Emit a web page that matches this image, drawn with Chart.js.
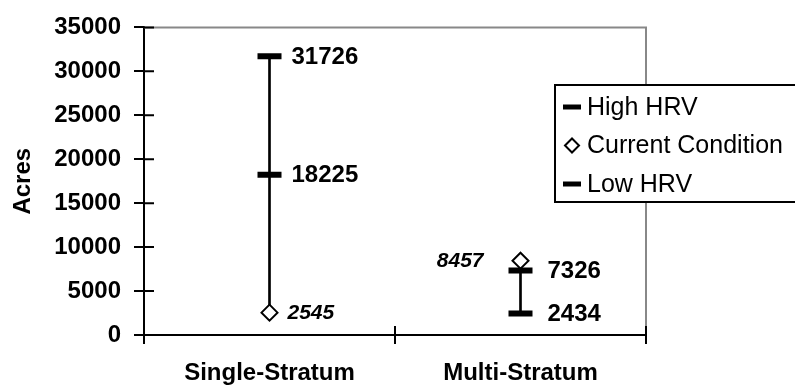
<!DOCTYPE html>
<html>
<head>
<meta charset="utf-8">
<script src="https://cdn.jsdelivr.net/npm/chart.js@4"></script>
<style>
  html, body { margin: 0; padding: 0; background: #fff; }
  #wrap { width: 795px; height: 390px; }
</style>
</head>
<body>
<div id="wrap"><canvas id="chart"></canvas></div>
<script>
// data
const categories = ['Single-Stratum', 'Multi-Stratum'];
const seriesNames = ['High HRV', 'Current Condition', 'Low HRV'];
const highHRV = [31726, 7326];
const currentCondition = [2545, 8457];
const lowHRV = [18225, 2434];
// the vertical range line at each category
const rangeBottom = [2545, 2434];
const rangeTop = [31726, 7326];
const yTicks = [0, 5000, 10000, 15000, 20000, 25000, 30000, 35000];

const FONT = 'Arial, "Liberation Sans", sans-serif';

// grey plot frame + inner halves of the tick marks
const framePlugin = {
    id: 'frame',
    beforeDatasetsDraw(chart) {
        const { ctx, chartArea: a, scales } = chart;
        ctx.save();
        ctx.strokeStyle = '#888';
        ctx.lineWidth = 2;
        ctx.beginPath();
        ctx.moveTo(a.left, a.top);
        ctx.lineTo(a.right, a.top);
        ctx.lineTo(a.right, a.bottom);
        ctx.stroke();

        ctx.strokeStyle = '#000';
        ctx.beginPath();
        scales.y.ticks.forEach(t => {
            const y = scales.y.getPixelForValue(t.value);
            ctx.moveTo(a.left, y);
            ctx.lineTo(a.left + 10, y);
        });
        for (let k = 0; k <= categories.length; k++) {
            const x = scales.x.getPixelForValue(k - 0.5);
            ctx.moveTo(x, a.bottom);
            ctx.lineTo(x, a.bottom - 9);
        }
        ctx.stroke();
        ctx.restore();
    }
};

// value labels beside the markers
const valueLabels = {
    id: 'valueLabels',
    afterDatasetsDraw(chart) {
        const ctx = chart.ctx;
        chart.data.datasets.forEach((ds, i) => {
            if (!ds.labelFont) return;
            const meta = chart.getDatasetMeta(i);
            meta.data.forEach((pt, j) => {
                ctx.save();
                ctx.font = ds.labelFont;
                ctx.fillStyle = '#000';
                ctx.textBaseline = 'middle';
                ctx.textAlign = ds.labelAlign[j];
                ctx.fillText(String(ds.data[j]), pt.x + ds.labelDx[j], pt.y + 1);
                ctx.restore();
            });
        });
    }
};

// boxed legend sitting over the right edge of the plot
const legendBox = {
    id: 'legendBox',
    afterDraw(chart) {
        const ctx = chart.ctx;
        const left = 555, top = 85, h = 117, rowH = 38.5;
        ctx.save();
        ctx.fillStyle = '#fff';
        ctx.fillRect(left, top, 260, h);
        ctx.strokeStyle = '#000';
        ctx.lineWidth = 2;
        ctx.strokeRect(left, top, 260, h);

        const sets = chart.data.datasets.filter(d => d.legendItem);
        sets.forEach((ds, i) => {
            const cy = top + 22 + i * rowH;
            const mx = left + 17;
            ctx.strokeStyle = '#000';
            if (ds.pointStyle === 'rectRot') {
                ctx.lineWidth = 2;
                ctx.fillStyle = '#fff';
                ctx.beginPath();
                ctx.moveTo(mx - 7, cy);
                ctx.lineTo(mx, cy - 7);
                ctx.lineTo(mx + 7, cy);
                ctx.lineTo(mx, cy + 7);
                ctx.closePath();
                ctx.fill();
                ctx.stroke();
            } else {
                ctx.lineWidth = 5;
                ctx.beginPath();
                ctx.moveTo(mx - 9, cy);
                ctx.lineTo(mx + 9, cy);
                ctx.stroke();
            }
            ctx.fillStyle = '#000';
            ctx.font = '25px ' + FONT;
            ctx.textBaseline = 'middle';
            ctx.textAlign = 'left';
            ctx.fillText(ds.label, left + 32, cy + 1);
        });
        ctx.restore();
    }
};

new Chart(document.getElementById('chart'), {
    type: 'line',
    data: {
        labels: categories,
        datasets: [
            {
                type: 'bar',
                label: 'range',
                data: categories.map((c, i) => [rangeBottom[i], rangeTop[i]]),
                backgroundColor: '#000',
                borderWidth: 0,
                barThickness: 2,
                order: 3
            },
            {
                label: seriesNames[0],
                data: highHRV,
                showLine: false,
                pointStyle: 'line',
                pointRadius: 12,
                pointBorderWidth: 6,
                pointBorderColor: '#000',
                borderColor: '#000',
                order: 1,
                legendItem: true,
                labelFont: 'bold 24px ' + FONT,
                labelAlign: ['left', 'left'],
                labelDx: [22, 27]
            },
            {
                label: seriesNames[1],
                data: currentCondition,
                showLine: false,
                pointStyle: 'rectRot',
                pointRadius: 8,
                pointBorderWidth: 2,
                pointBorderColor: '#000',
                pointBackgroundColor: '#fff',
                borderColor: '#000',
                order: 0,
                legendItem: true,
                labelFont: 'italic bold 21px ' + FONT,
                labelAlign: ['left', 'right'],
                labelDx: [18, -37]
            },
            {
                label: seriesNames[2],
                data: lowHRV,
                showLine: false,
                pointStyle: 'line',
                pointRadius: 12,
                pointBorderWidth: 6,
                pointBorderColor: '#000',
                borderColor: '#000',
                order: 1,
                legendItem: true,
                labelFont: 'bold 24px ' + FONT,
                labelAlign: ['left', 'left'],
                labelDx: [22, 27]
            }
        ]
    },
    options: {
        responsive: true,
        maintainAspectRatio: false,
        animation: false,
        events: [],
        layout: { padding: { top: 22, right: 149, bottom: 0, left: 0 } },
        plugins: {
            legend: { display: false },
            tooltip: { enabled: false }
        },
        scales: {
            x: {
                offset: true,
                grid: {
                    offset: true,
                    drawOnChartArea: false,
                    color: '#000',
                    lineWidth: 2,
                    tickLength: 9
                },
                border: { color: '#000', width: 2 },
                ticks: {
                    color: '#000',
                    padding: 15,
                    maxRotation: 0,
                    font: { family: FONT, size: 24, weight: 'bold' }
                },
                afterFit(scale) { scale.height = 55; }
            },
            y: {
                min: yTicks[0],
                max: yTicks[yTicks.length - 1],
                ticks: {
                    stepSize: yTicks[1] - yTicks[0],
                    color: '#000',
                    padding: 13,
                    callback: v => String(v),
                    font: { family: FONT, size: 24, weight: 'bold' }
                },
                grid: {
                    drawOnChartArea: false,
                    color: '#000',
                    lineWidth: 2,
                    tickLength: 10
                },
                border: { color: '#000', width: 2 },
                title: {
                    display: true,
                    text: 'Acres',
                    color: '#000',
                    padding: { top: 9, bottom: 0 },
                    font: { family: FONT, size: 24, weight: 'bold' }
                },
                afterFit(scale) { scale.width = 144; }
            }
        }
    },
    plugins: [framePlugin, valueLabels, legendBox]
});
</script>
</body>
</html>
